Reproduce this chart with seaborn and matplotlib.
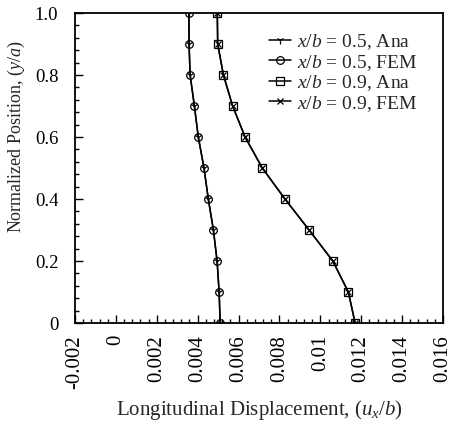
import numpy as np
import pandas as pd
import matplotlib
matplotlib.use("Agg")
import matplotlib.pyplot as plt
from matplotlib.ticker import MultipleLocator, FuncFormatter
import seaborn as sns

# ---- data ----
y_pos = [1.0, 0.9, 0.8, 0.7, 0.6, 0.5, 0.4, 0.3, 0.2, 0.1, 0.0]
u_05_ana = [0.00357, 0.00358, 0.00363, 0.00384, 0.00403, 0.00431, 0.00452, 0.00477, 0.00495, 0.00505, 0.00510]
u_05_fem = [0.00357, 0.00358, 0.00363, 0.00384, 0.00403, 0.00431, 0.00452, 0.00477, 0.00495, 0.00505, 0.00510]
u_09_ana = [0.00496, 0.00498, 0.00526, 0.00571, 0.00632, 0.00716, 0.00827, 0.00945, 0.01061, 0.01137, 0.01170]
u_09_fem = [0.00496, 0.00498, 0.00526, 0.00571, 0.00632, 0.00716, 0.00827, 0.00945, 0.01061, 0.01137, 0.01170]
labels = [r"$x/b$ = 0.5, Ana", r"$x/b$ = 0.5, FEM", r"$x/b$ = 0.9, Ana", r"$x/b$ = 0.9, FEM"]
x_ticks = [-0.002, 0, 0.002, 0.004, 0.006, 0.008, 0.01, 0.012, 0.014, 0.016]
y_ticks = [0, 0.2, 0.4, 0.6, 0.8, 1.0]

sns.set_style("ticks")
plt.rcParams["font.family"] = ["Liberation Serif", "DejaVu Serif"]
plt.rcParams["mathtext.fontset"] = "custom"
plt.rcParams["mathtext.rm"] = "Liberation Serif"
plt.rcParams["mathtext.it"] = "Liberation Serif:italic"

fig = plt.figure(figsize=(4.61, 4.27), dpi=100)
ax = fig.add_axes([75 / 461, 1 - 324 / 427, (443 - 75) / 461, (324 - 14) / 427])

series = [u_05_ana, u_05_fem, u_09_ana, u_09_fem]
markers = ["1", "o", "s", "x"]
msizes = [6, 5.5, 5.5, 5]
for vals, lab, mk, ms in zip(series, labels, markers, msizes):
    df = pd.DataFrame({"u": vals, "y": y_pos})
    sns.lineplot(data=df, x="u", y="y", sort=False, estimator=None, ax=ax,
                 color="black", linewidth=1.1, marker=mk, markersize=ms,
                 markerfacecolor="none", markeredgecolor="black",
                 markeredgewidth=0.9, label=lab)

ax.set_xlim(-0.002, 0.016)
ax.set_ylim(0, 1.0)
ax.set_xticks(x_ticks)
ax.set_yticks(y_ticks)
ax.xaxis.set_minor_locator(MultipleLocator(0.0004))
ax.yaxis.set_minor_locator(MultipleLocator(0.04))
ax.xaxis.set_major_formatter(FuncFormatter(lambda v, p: "0" if abs(v) < 1e-12 else ("%g" % round(v, 4))))
ax.yaxis.set_major_formatter(FuncFormatter(lambda v, p: "0" if abs(v) < 1e-12 else "%.1f" % v))
ax.tick_params(axis="both", which="both", direction="in", color="black", width=1.0,
               top=False, right=False, labelcolor="black")
ax.tick_params(axis="both", which="major", length=6)
ax.tick_params(axis="both", which="minor", length=3)
ax.tick_params(axis="x", which="major", pad=8, labelrotation=90, labelsize=15)
ax.tick_params(axis="y", which="major", pad=12, labelsize=13.5)
for s in ax.spines.values():
    s.set_color("black")
    s.set_linewidth(1.3)

ax.set_xlabel(r"Longitudinal Displacement, ($u_x$/$b$)", fontsize=15, labelpad=7)
ax.set_ylabel(r"Normalized Position, ($y$/$a$)", fontsize=13)
ax.yaxis.set_label_coords(-0.13, 0.603)

leg = ax.legend(loc="upper left", bbox_to_anchor=(0.506, 0.965), frameon=False,
                fontsize=14, handlelength=1.15, handletextpad=0.3, labelspacing=0.03,
                borderaxespad=0)

fig.savefig("out.png", dpi=100)
